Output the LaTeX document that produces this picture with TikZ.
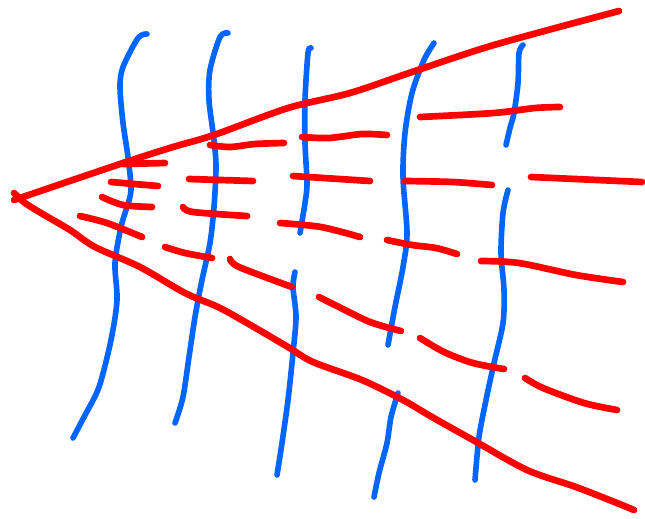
\documentclass[tikz,border=0pt]{standalone}
\definecolor{sketchred}{RGB}{255,0,0}
\definecolor{sketchblue}{RGB}{0,102,255}
\begin{document}
\begin{tikzpicture}[x=0.02cm, y=-0.02cm,
  redline/.style={draw=sketchred, line width=3.8pt, line cap=round, line join=round},
  blueline/.style={draw=sketchblue, line width=3.2pt, line cap=round, line join=round}]
\useasboundingbox (0,0) rectangle (645,518);
% blue wavy lines
\draw[blueline] plot[smooth] coordinates {(147,34) (138,38) (123,67) (120,87) (123,123) (128,157) (131,190) (126,210) (121,227) (115,263) (117,300) (111,340) (99,387) (84,417) (73,438)};
\draw[blueline] plot[smooth] coordinates {(228,33) (220,37) (210,70) (209,100) (214,140) (216,167) (214,207) (210,243) (202,280) (195,317) (189,357) (183,397) (175,423)};
\draw[blueline] plot[smooth] coordinates {(311,48) (308,53) (305,100) (305,143) (307,183) (305,203) (300,233)};
\draw[blueline] plot[smooth] coordinates {(295,272) (293,287) (296,317) (293,353) (288,400) (282,443) (277,475)};
\draw[blueline] plot[smooth] coordinates {(434,43) (424,60) (412,93) (405,133) (403,177) (407,233) (403,267) (395,307) (388,345)};
\draw[blueline] plot[smooth] coordinates {(398,393) (391,417) (387,443) (379,473) (374,497)};
\draw[blueline] plot[smooth] coordinates {(523,45) (519,53) (518,83) (514,113) (510,128) (506,145)};
\draw[blueline] plot[smooth] coordinates {(508,190) (503,213) (501,253) (504,290) (503,323) (494,363) (486,400) (479,437) (475,480)};
% red solid edges
\draw[redline] plot[smooth] coordinates {(14,200) (123,163) (173,147) (214,135) (288,108) (350,93) (412,72) (494,45) (619,11)};
\draw[redline] plot[smooth] coordinates {(14,193) (25,203) (41,213) (70,230) (95,247) (140,267) (185,293) (218,307) (247,323) (288,347) (313,362) (362,380) (403,400) (432,417) (473,440) (527,470) (576,487) (617,503) (634,510)};
% red dashes, first row
\draw[redline] plot[smooth] coordinates {(123,164) (165,163)};
\draw[redline] plot[smooth] coordinates {(210,145) (230,147) (255,144) (284,143)};
\draw[redline] plot[smooth] coordinates {(302,137) (329,138) (362,134) (387,135)};
\draw[redline] plot[smooth] coordinates {(420,117) (494,113) (535,108) (560,107)};
% second row
\draw[redline] plot[smooth] coordinates {(111,182) (158,186)};
\draw[redline] plot[smooth] coordinates {(189,179) (253,181)};
\draw[redline] plot[smooth] coordinates {(293,176) (370,181)};
\draw[redline] plot[smooth] coordinates {(405,181) (453,182) (492,185)};
\draw[redline] plot[smooth] coordinates {(531,177) (642,182)};
% third row
\draw[redline] plot[smooth] coordinates {(102,197) (123,205) (152,207)};
\draw[redline] plot[smooth] coordinates {(183,207) (193,212) (247,216)};
\draw[redline] plot[smooth] coordinates {(280,223) (321,227) (360,237)};
\draw[redline] plot[smooth] coordinates {(387,240) (412,245) (436,248) (457,254)};
\draw[redline] plot[smooth] coordinates {(481,261) (519,263) (576,275) (623,282)};
% fourth row
\draw[redline] plot[smooth] coordinates {(80,216) (107,223) (142,237)};
\draw[redline] plot[smooth] coordinates {(165,247) (185,253) (212,258)};
\draw[redline] plot[smooth] coordinates {(230,259) (239,267) (292,287)};
\draw[redline] plot[smooth] coordinates {(319,297) (337,306) (370,322) (401,331)};
\draw[redline] plot[smooth] coordinates {(420,338) (444,352) (473,363) (504,369)};
\draw[redline] plot[smooth] coordinates {(525,378) (543,388) (584,403) (617,410)};
\end{tikzpicture}
\end{document}
